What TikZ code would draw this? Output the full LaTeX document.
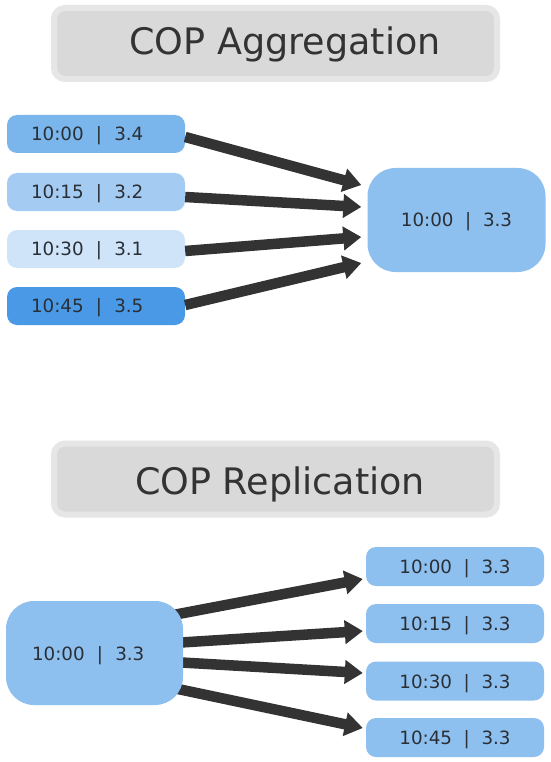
\documentclass[tikz,border=0pt]{standalone}
\usepackage{fontspec}
\setmainfont{DejaVu Sans}
\usetikzlibrary{arrows.meta}
\pgfdeclarelayer{bg}
\pgfsetlayers{bg,main}
\definecolor{cA}{HTML}{7AB6EC}
\definecolor{cB}{HTML}{A4CBF2}
\definecolor{cC}{HTML}{D0E4F9}
\definecolor{cD}{HTML}{4A99E6}
\definecolor{cM}{HTML}{8EC0EF}
\definecolor{txt}{HTML}{2A2F36}
\definecolor{arrc}{HTML}{333333}
\definecolor{tfill}{HTML}{D9D9D9}
\definecolor{tborder}{HTML}{E6E6E6}
\begin{document}
\begin{tikzpicture}[x=1pt,y=-1pt,
  valtext/.style={text=txt, font=\fontsize{18.3}{22}\selectfont, text depth=0pt},
  smallbox/.style={valtext, rounded corners=10pt, inner ysep=0pt, inner xsep=0pt,
    minimum width=178pt, minimum height=38pt},
  leftbox/.style={smallbox, align=left, text width=130pt, inner xsep=24pt},
  bigbox/.style={valtext, fill=cM, rounded corners=28pt, inner sep=0pt,
    minimum width=178pt, minimum height=104pt},
  titlebox/.style={draw=tborder, line width=6pt, fill=tfill, rounded corners=11pt,
    minimum width=443pt, minimum height=71pt, inner sep=0pt},
  titletext/.style={text=arrc, font=\fontsize{36.5}{44}\selectfont, anchor=base, inner sep=0pt},
  arr/.style={draw=arrc, line width=10.5pt, -{Triangle[length=18pt,width=23pt]}}]
\begin{pgfonlayer}{bg}
\fill[white] (0,0) rectangle (550,762);
\end{pgfonlayer}
\useasboundingbox (0,0) rectangle (550,762);

% ---------- Aggregation ----------
\node[titlebox] (t1box) at (275.5,43.5) {};
\node[titletext] (t1) at (285,55) {COP Aggregation};

\node[leftbox, fill=cA] (a1) at (96,134) {10:00\ \ |\ \ 3.4};
\node[leftbox, fill=cB] (a2) at (96,192) {10:15\ \ |\ \ 3.2};
\node[leftbox, fill=cC] (a3) at (96,249) {10:30\ \ |\ \ 3.1};
\node[leftbox, fill=cD] (a4) at (96,306) {10:45\ \ |\ \ 3.5};

\node[bigbox] (agg) at (456.5,220) {10:00\ \ |\ \ 3.3};

\draw[arr] ([yshift=-3pt]a1.east) -- ([xshift=-6pt,yshift=35pt]agg.west);
\draw[arr] ([yshift=-5pt]a2.east) -- ([xshift=-6pt,yshift=13pt]agg.west);
\draw[arr] ([yshift=-2pt]a3.east) -- ([xshift=-6pt,yshift=-17pt]agg.west);
\draw[arr] ([yshift=1pt]a4.east) -- ([xshift=-6pt,yshift=-43pt]agg.west);

% ---------- Replication ----------
\node[titlebox] (t2box) at (275.5,479) {};
\node[titletext] (t2) at (280,494) {COP Replication};

\node[bigbox, align=left, text width=125pt, inner xsep=26pt, minimum width=177pt] (rep) at (94.5,653) {10:00\ \ |\ \ 3.3};

\node[smallbox, fill=cM, minimum height=39pt] (r1) at (455,566.5) {10:00\ \ |\ \ 3.3};
\node[smallbox, fill=cM, minimum height=39pt] (r2) at (455,623.5) {10:15\ \ |\ \ 3.3};
\node[smallbox, fill=cM, minimum height=39pt] (r3) at (455,681) {10:30\ \ |\ \ 3.3};
\node[smallbox, fill=cM, minimum height=39pt] (r4) at (455,737.5) {10:45\ \ |\ \ 3.3};

\begin{pgfonlayer}{bg}
\draw[arr] ([xshift=-10pt,yshift=38pt]rep.east) -- ([xshift=-3pt,yshift=-12.5pt]r1.west);
\draw[arr] ([xshift=-10pt,yshift=10pt]rep.east) -- ([xshift=-3pt,yshift=-7.5pt]r2.west);
\draw[arr] ([xshift=-10pt,yshift=-9pt]rep.east) -- ([xshift=-3pt,yshift=8pt]r3.west);
\draw[arr] ([xshift=-10pt,yshift=-35pt]rep.east) -- ([xshift=-3pt,yshift=9.5pt]r4.west);
\end{pgfonlayer}
\end{tikzpicture}
\end{document}
